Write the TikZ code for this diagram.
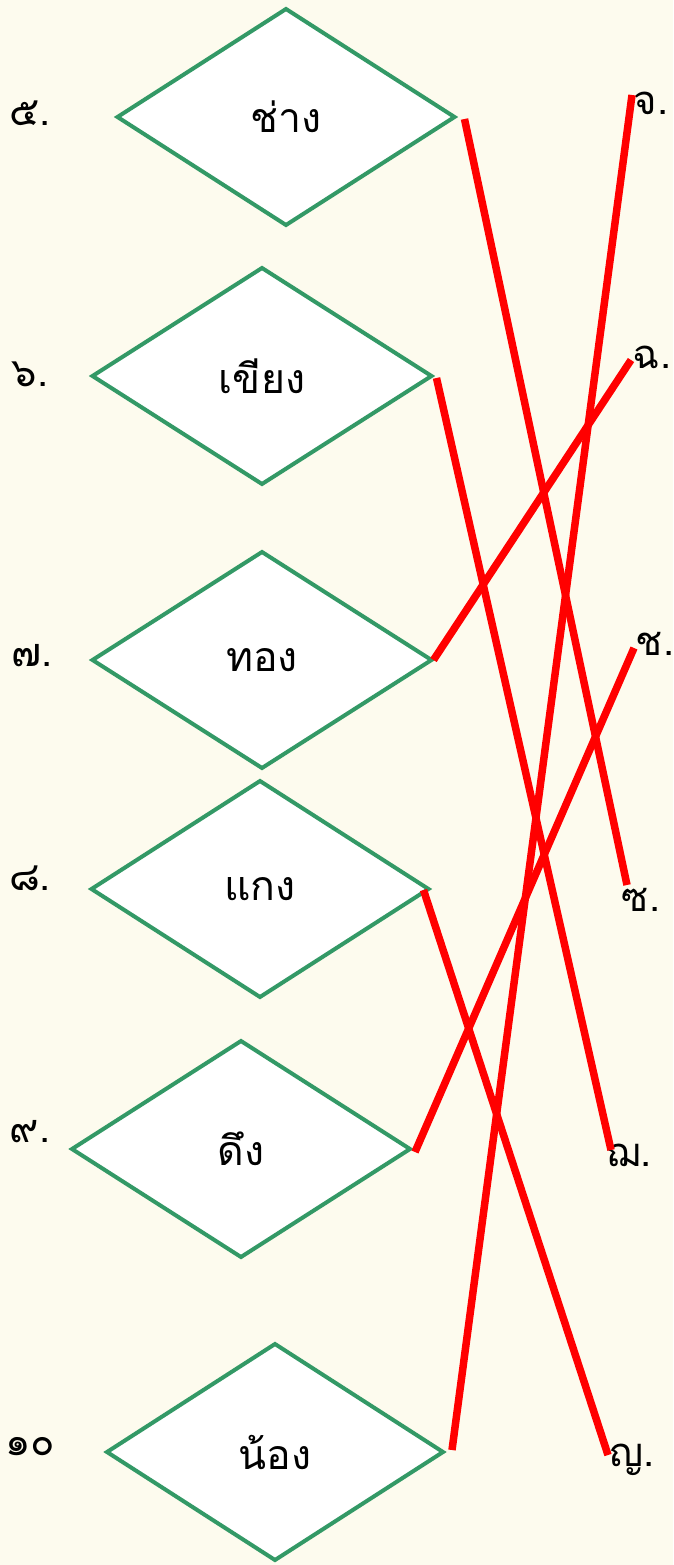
\documentclass[tikz,border=0pt]{standalone}
\usepackage{fontspec}
\newfontfamily\thaifont[Script=Thai]{Loma}
\usetikzlibrary{shapes.geometric,calc}
\definecolor{bg}{HTML}{FDFBEE}
\definecolor{dgreen}{HTML}{339966}
\definecolor{lred}{HTML}{FF0000}
\tikzset{
  dia/.style={diamond,draw=dgreen,line width=4pt,fill=white,minimum width=337pt,minimum height=216pt,inner sep=0pt,outer sep=0pt,font=\thaifont\fontsize{41}{44}\selectfont},
  num/.style={font=\thaifont\fontsize{40}{44}\selectfont,inner sep=0pt},
  link/.style={draw=lred,line width=7.5pt},
}
\begin{document}
\begin{tikzpicture}[x=1pt,y=-1pt]
\fill[bg] (0,0) rectangle (673,1565);
\useasboundingbox (0,0) rectangle (673,1565);
% diamonds
\node[dia] (d1) at (286,117) {ช่าง};
\node[dia,minimum width=339pt] (d2) at (262,376) {เขียง};
\node[dia,minimum width=339pt] (d3) at (262,660) {ทอง};
\node[dia] (d4) at (260,889) {แกง};
\node[dia,minimum width=338pt] (d5) at (241,1149) {ดึง};
\node[dia,minimum width=336pt] (d6) at (275,1452) {น้อง};
% left labels
\node[num] (n5) at (30,113) {๕.};
\node[num] (n6) at (30,374) {๖.};
\node[num] (n7) at (32,656) {๗.};
\node[num] (n8) at (30,878) {๘.};
\node[num] (n9) at (30,1132) {๙.};
\node[num] (n10) at (30,1447) {๑๐};
% right labels
\node[num] (r1) at (651,103) {จ.};
\node[num] (r2) at (652,357) {ฉ.};
\node[num] (r3) at (655,644) {ช.};
\node[num] (r4) at (641,900) {ซ.};
\node[num] (r5) at (629,1155) {ฌ.};
\node[num] (r6) at (632,1460) {ญ.};
% line ends
\coordinate (e1) at (632,95);
\coordinate (e2) at (631,360);
\coordinate (e3) at (634,648);
\coordinate (e4) at (627,885);
\coordinate (e5) at (611,1150);
\coordinate (e6) at (608,1455);
% connectors
\draw[link] ($(d1.east)+(10,2)$) -- (e4);
\draw[link] ($(d2.east)+(5,2)$) -- (e5);
\draw[link] ($(d3.east)+(2,0)$) -- (e2);
\draw[link] ($(d4.east)+(-5,1)$) -- (e6);
\draw[link] ($(d5.east)+(5,3)$) -- (e3);
\draw[link] ($(d6.east)+(9,-2)$) -- (e1);
\end{tikzpicture}
\end{document}
